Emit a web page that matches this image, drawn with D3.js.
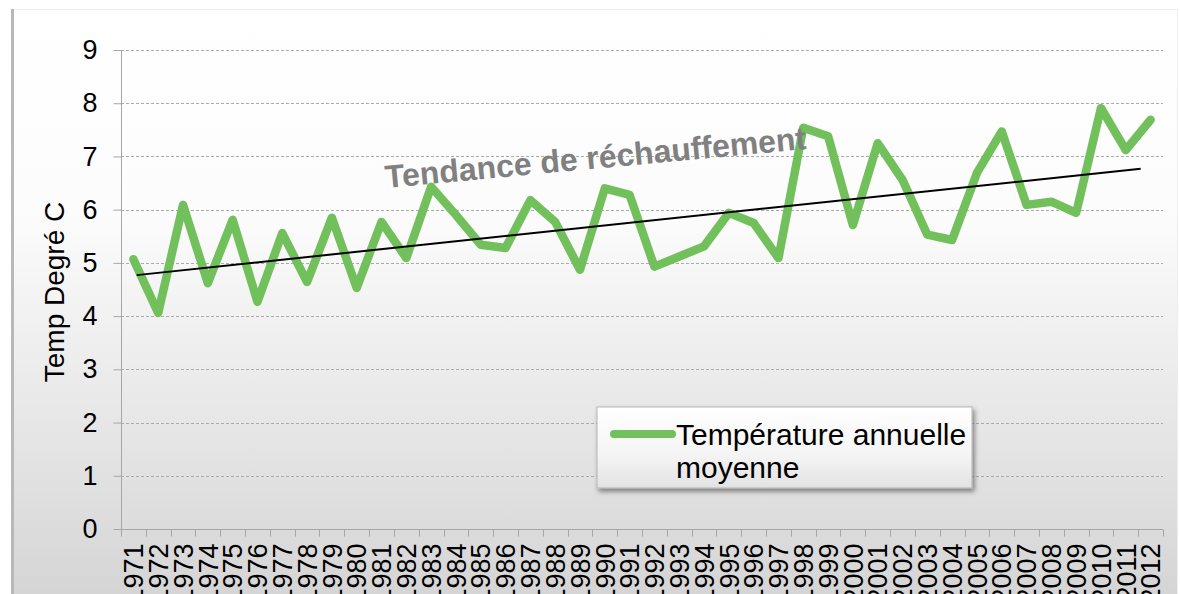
<!DOCTYPE html>
<html>
<head>
<meta charset="utf-8">
<script src="https://cdn.jsdelivr.net/npm/d3@7"></script>
<style>
  html, body { margin: 0; padding: 0; background: #ffffff; }
  svg { display: block; }
  text { font-family: "Liberation Sans", Arial, sans-serif; }
</style>
</head>
<body>
<svg id="chart" width="1180" height="594"></svg>
<script>
// ---- data ----
const years = ["1971","1972","1973","1974","1975","1976","1977","1978","1979","1980",
  "1981","1982","1983","1984","1985","1986","1987","1988","1989","1990",
  "1991","1992","1993","1994","1995","1996","1997","1998","1999","2000",
  "2001","2002","2003","2004","2005","2006","2007","2008","2009","2010",
  "2011","2012"];
const temps = [5.07, 4.06, 6.09, 4.62, 5.81, 4.27, 5.56, 4.64, 5.85, 4.53,
  5.77, 5.09, 6.43, 5.90, 5.34, 5.28, 6.18, 5.77, 4.87, 6.40,
  6.28, 4.93, 5.12, 5.31, 5.94, 5.75, 5.09, 7.54, 7.38, 5.71,
  7.25, 6.56, 5.53, 5.43, 6.69, 7.47, 6.09, 6.15, 5.94, 7.91,
  7.12, 7.69];
const yTicks = [0, 1, 2, 3, 4, 5, 6, 7, 8, 9];
// trend line endpoints (position as category index, value)
const trendIndex = [0.13, 40.6];
const trendValue = [4.77, 6.77];
const seriesName = ["Température annuelle", "moyenne"];
const yTitle = "Temp Degré C";
const annotation = "Tendance de réchauffement";

// ---- layout ----
const svg = d3.select("#chart");
const W = 1180, H = 594;
const plot = { left: 121, right: 1163, top: 50, bottom: 529 };

const defs = svg.append("defs");
const bg = defs.append("linearGradient").attr("id", "bg").attr("x1", 0).attr("y1", 0).attr("x2", 0).attr("y2", 1);
bg.append("stop").attr("offset", "0%").attr("stop-color", "#ffffff");
bg.append("stop").attr("offset", "35%").attr("stop-color", "#fcfcfc");
bg.append("stop").attr("offset", "100%").attr("stop-color", "#d5d5d5");

const lg = defs.append("linearGradient").attr("id", "lg").attr("x1", 0).attr("y1", 0).attr("x2", 0).attr("y2", 1);
lg.append("stop").attr("offset", "0%").attr("stop-color", "#ffffff");
lg.append("stop").attr("offset", "60%").attr("stop-color", "#f4f4f4");
lg.append("stop").attr("offset", "100%").attr("stop-color", "#e2e2e2");

const sh = defs.append("filter").attr("id", "shadow").attr("x", "-10%").attr("y", "-20%").attr("width", "130%").attr("height", "160%");
sh.append("feDropShadow").attr("dx", 2).attr("dy", 3).attr("stdDeviation", 2.5).attr("flood-color", "#000").attr("flood-opacity", 0.45);

// chart frame background
svg.append("rect").attr("x", 12).attr("y", 9).attr("width", 1166).attr("height", H - 9).attr("fill", "url(#bg)");
svg.append("line").attr("x1", 12).attr("x2", 1178).attr("y1", 9.5).attr("y2", 9.5).attr("stroke", "#eeeeee");
svg.append("rect").attr("x", 11).attr("y", 9).attr("width", 3).attr("height", H - 9).attr("fill", "#b8b8b8");
svg.append("line").attr("x1", 1177.5).attr("x2", 1177.5).attr("y1", 9).attr("y2", H).attr("stroke", "#eeeeee");

// scales
const x = d3.scaleBand().domain(years).range([plot.left, plot.right]).padding(0);
const bw = x.bandwidth();
const xi = d3.scaleLinear().domain([0, years.length - 1])
  .range([x(years[0]) + bw / 2, x(years[years.length - 1]) + bw / 2]);
const y = d3.scaleLinear().domain([0, 9]).range([plot.bottom, plot.top]);

// gridlines
svg.append("g").selectAll("line").data(yTicks.filter(d => d > 0)).join("line")
  .attr("x1", plot.left).attr("x2", plot.right)
  .attr("y1", d => Math.round(y(d)) + 0.5).attr("y2", d => Math.round(y(d)) + 0.5)
  .attr("stroke", "#ababab").attr("stroke-width", 1).attr("stroke-dasharray", "3,2");

// y axis
const yAxis = d3.axisLeft(y).tickValues(yTicks).tickSize(8).tickPadding(16).tickFormat(d3.format("d"));
const gy = svg.append("g").attr("transform", `translate(${plot.left + 0.5},0)`).call(yAxis);
gy.select(".domain").attr("stroke", "#a6a6a6").attr("d", `M0,${plot.top}V${plot.bottom}`);
gy.selectAll(".tick line").attr("stroke", "#a6a6a6");
gy.selectAll(".tick text").attr("font-size", 27).attr("fill", "#000").attr("font-family", "Liberation Sans, Arial, sans-serif");

// x axis
const xAxis = d3.axisBottom(x).tickSize(0).tickPadding(0);
const gx = svg.append("g").attr("transform", `translate(0,${Math.round(y(0)) + 0.5})`).call(xAxis);
gx.select(".domain").attr("stroke", "#a6a6a6").attr("d", `M${plot.left},0H${plot.right}`);
gx.selectAll(".tick text")
  .attr("font-size", 27).attr("fill", "#000").attr("font-family", "Liberation Sans, Arial, sans-serif")
  .attr("text-anchor", "end")
  .attr("transform", "translate(0,14) rotate(-90)")
  .attr("x", 0).attr("y", 0).attr("dy", "0.36em");
// tick marks at category boundaries
const edges = years.map(d => x(d)).concat([plot.right]);
gx.append("g").selectAll("line").data(edges).join("line")
  .attr("x1", d => Math.round(d) + 0.5).attr("x2", d => Math.round(d) + 0.5)
  .attr("y1", 0).attr("y2", 7).attr("stroke", "#a6a6a6");

// y axis title
svg.append("text")
  .attr("transform", "translate(64,292) rotate(-90)")
  .attr("text-anchor", "middle")
  .attr("font-size", 28).attr("fill", "#000")
  .text(yTitle);

// series line
const line = d3.line().x((d, i) => x(years[i]) + bw / 2).y(d => y(d));
svg.append("path").datum(temps)
  .attr("d", line).attr("fill", "none")
  .attr("stroke", "#72c05c").attr("stroke-width", 8.5)
  .attr("stroke-linejoin", "round").attr("stroke-linecap", "round");

// trend line
svg.append("line")
  .attr("x1", xi(trendIndex[0])).attr("y1", y(trendValue[0]))
  .attr("x2", xi(trendIndex[1])).attr("y2", y(trendValue[1]))
  .attr("stroke", "#000").attr("stroke-width", 2);

// annotation
svg.append("text")
  .attr("transform", "translate(386,188) rotate(-5.3)")
  .attr("font-size", 32).attr("font-weight", "bold").attr("fill", "#808080")
  .text(annotation);

// legend
const leg = svg.append("g");
leg.append("rect").attr("x", 597).attr("y", 407).attr("width", 375).attr("height", 81)
  .attr("fill", "url(#lg)").attr("stroke", "#b5b5b5").attr("stroke-width", 1)
  .attr("filter", "url(#shadow)");
leg.append("line").attr("x1", 614).attr("x2", 672).attr("y1", 434).attr("y2", 434)
  .attr("stroke", "#72c05c").attr("stroke-width", 8).attr("stroke-linecap", "round");
leg.selectAll("text.l").data(seriesName).join("text").attr("class", "l")
  .attr("x", 676).attr("y", (d, i) => 445 + i * 33)
  .attr("font-size", 30).attr("fill", "#000")
  .text(d => d);
</script>
</body>
</html>
